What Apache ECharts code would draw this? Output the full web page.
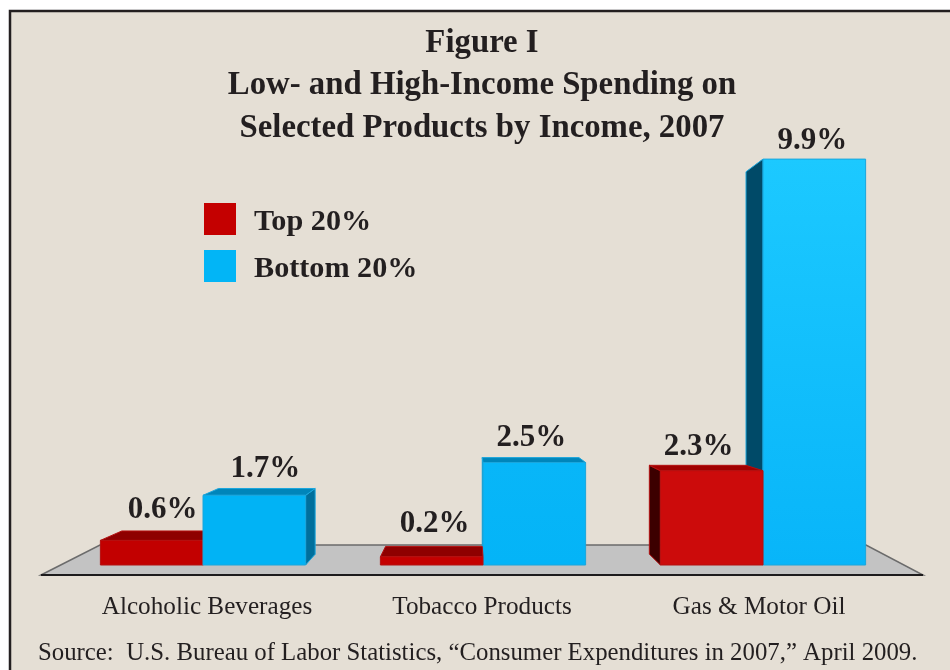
<!DOCTYPE html>
<html>
<head>
<meta charset="utf-8">
<style>html,body{margin:0;padding:0;background:#fff}#chart{width:950px;height:670px}</style>
<script src="https://cdn.jsdelivr.net/npm/echarts@6/dist/echarts.min.js"></script>
</head>
<body>
<div id="chart"></div>
<script>
// Spending shares by income group
const categories = ['Alcoholic Beverages', 'Tobacco Products', 'Gas & Motor Oil'];
const top20 = [0.6, 0.2, 2.3];
const bottom20 = [1.7, 2.5, 9.9];

// Hand placement of the value labels relative to the front-top centre of each bar
const topLabelShift = [[11, -30], [3, -33], [-13, -24]];
const bottomLabelShift = [[11, -26], [-3, -25], [-2, -18]];

// Faces of the extruded bars
const redFaces = {
  front: ['#c20000', '#c40000', '#cc0b0b'],
  top: ['#8e0000', '#8e0000', '#a00000'],
  side: '#3c0000',
  edge: '#b41010'
};
const blueFaces = {
  front: [['#01b3f5', '#01b3f5'], ['#08b6f8', '#04b4f7'], ['#1cc9ff', '#08b5f9']],
  top: ['#0085ba', '#0085ba', '#12a8e4'],
  sideRight: '#006f9c',
  sideLeft: '#004a68',
  edge: '#1ba6dc'
};

// One-point perspective used for the bar depth
const VANISH = { x: 470, y: 378, k: 0.058 };
const recede = (p) => [p[0] + (VANISH.x - p[0]) * VANISH.k, p[1] + (VANISH.y - p[1]) * VANISH.k];

const SERIF = '"Liberation Serif", "Times New Roman", serif';
const BAR_BAND = 0.3665;

function poly(points, fill, stroke) {
  return {
    type: 'polygon',
    shape: { points },
    style: { fill, stroke: stroke || fill, lineWidth: stroke ? 1 : 0 }
  };
}

function barRenderer(faces, side, labelShifts) {
  return function (params, api) {
    const i = api.value(0);
    const v = api.value(1);
    const base = api.coord([i, 0]);
    const tip = api.coord([i, v]);
    const width = api.size([1, 0])[0] * BAR_BAND;
    const x0 = side < 0 ? base[0] - width : base[0];
    const x1 = x0 + width;
    const y0 = tip[1];
    const y1 = base[1];
    const tl = [x0, y0], tr = [x1, y0], bl = [x0, y1], br = [x1, y1];
    const btl = recede(tl), btr = recede(tr), bbl = recede(bl), bbr = recede(br);
    const kids = [];
    if (x0 > VANISH.x) {
      kids.push(poly([tl, btl, bbl, bl], faces.sideLeft || faces.side, faces.edge));
    }
    if (x1 < VANISH.x) {
      kids.push(poly([tr, btr, bbr, br], faces.sideRight || faces.side, faces.edge));
    }
    // The lid only shows on bars that end below eye level
    if (y0 > VANISH.y) {
      kids.push(poly([tl, btl, btr, tr], faces.top[i], faces.edge));
    }
    const front = faces.front[i];
    const fill = Array.isArray(front)
      ? new echarts.graphic.LinearGradient(0, 0, 0, 1, [
          { offset: 0, color: front[0] },
          { offset: 1, color: front[1] }
        ])
      : front;
    kids.push({
      type: 'rect',
      shape: { x: x0, y: y0, width: x1 - x0, height: y1 - y0 },
      style: { fill, stroke: faces.edge, lineWidth: 1 }
    });
    const shift = labelShifts[i];
    const label = {
      type: 'text',
      x: (x0 + x1) / 2 + shift[0],
      y: y0 + shift[1],
      style: {
        text: v.toFixed(1) + '%',
        fill: '#231f20',
        font: 'bold 31px ' + SERIF,
        align: 'center',
        verticalAlign: 'middle'
      }
    };
    // Bars nearer the line of sight paint over their neighbour
    const z2 = Math.round(-Math.abs((x0 + x1) / 2 - VANISH.x));
    kids.forEach((k) => { k.z2 = z2; });
    label.z2 = 10;
    kids.push(label);
    return { type: 'group', children: kids };
  };
}

const chart = echarts.init(document.getElementById('chart'), null, { renderer: 'canvas' });

chart.setOption({
  animation: false,
  backgroundColor: '#ffffff',
  title: [
    {
      text: 'Figure I\nLow- and High-Income Spending on\nSelected Products by Income, 2007',
      left: 477,
      top: 17,
      textAlign: 'center',
      textStyle: {
        fontFamily: SERIF,
        fontWeight: 'bold',
        fontSize: 32.8,
        lineHeight: 42.5,
        color: '#231f20'
      }
    },
    {
      text: 'Source:  U.S. Bureau of Labor Statistics, \u201cConsumer Expenditures in 2007,\u201d April 2009.',
      left: 33,
      top: 636,
      textStyle: {
        fontFamily: SERIF,
        fontWeight: 'normal',
        fontSize: 24.8,
        color: '#231f20'
      }
    }
  ],
  legend: {
    left: 199,
    top: 198,
    orient: 'vertical',
    itemWidth: 32,
    itemHeight: 32,
    itemGap: 13,
    icon: 'rect',
    data: ['Top 20%', 'Bottom 20%'],
    formatter: '{t|{name}}',
    textStyle: {
      rich: {
        t: {
          fontFamily: SERIF,
          fontWeight: 'bold',
          fontSize: 30.2,
          color: '#231f20',
          padding: [6, 0, 0, 13]
        }
      }
    }
  },
  graphic: [
    {
      type: 'rect',
      z: 0,
      shape: { x: 10, y: 11, width: 960, height: 680 },
      style: { fill: '#e5dfd5', stroke: '#231f20', lineWidth: 2.5 }
    },
    {
      // Floor plate the bars stand on
      type: 'polygon',
      z: 1,
      shape: { points: [[41, 575], [100, 545], [866, 545], [923, 575]] },
      style: { fill: '#c3c3c3', stroke: '#6b6b6b', lineWidth: 1.5 }
    },
    {
      type: 'line',
      z: 1,
      shape: { x1: 41, y1: 575, x2: 923, y2: 575 },
      style: { stroke: '#1d1b1c', lineWidth: 2 }
    }
  ],
  grid: { left: 63, top: 155, width: 840, height: 410 },
  xAxis: {
    type: 'category',
    data: categories,
    axisLine: { show: false },
    axisTick: { show: false },
    axisLabel: {
      margin: 30,
      formatter: (name, idx) => '{c' + idx + '|' + name + '}',
      rich: {
        c0: { fontFamily: SERIF, fontSize: 25.2, color: '#231f20', padding: [0, 0, 0, 8] },
        c1: { fontFamily: SERIF, fontSize: 25.2, color: '#231f20', padding: [0, 2, 0, 0] },
        c2: { fontFamily: SERIF, fontSize: 25.2, color: '#231f20', padding: [0, 8, 0, 0] }
      }
    }
  },
  yAxis: { type: 'value', min: 0, max: 10, show: false },
  series: [
    {
      name: 'Top 20%',
      type: 'custom',
      itemStyle: { color: '#c40000' },
      renderItem: barRenderer(redFaces, -1, topLabelShift),
      encode: { x: 0, y: 1 },
      data: top20.map((v, i) => [i, v])
    },
    {
      name: 'Bottom 20%',
      type: 'custom',
      itemStyle: { color: '#02b5f6' },
      renderItem: barRenderer(blueFaces, 1, bottomLabelShift),
      encode: { x: 0, y: 1 },
      data: bottom20.map((v, i) => [i, v])
    }
  ]
});
</script>
</body>
</html>
